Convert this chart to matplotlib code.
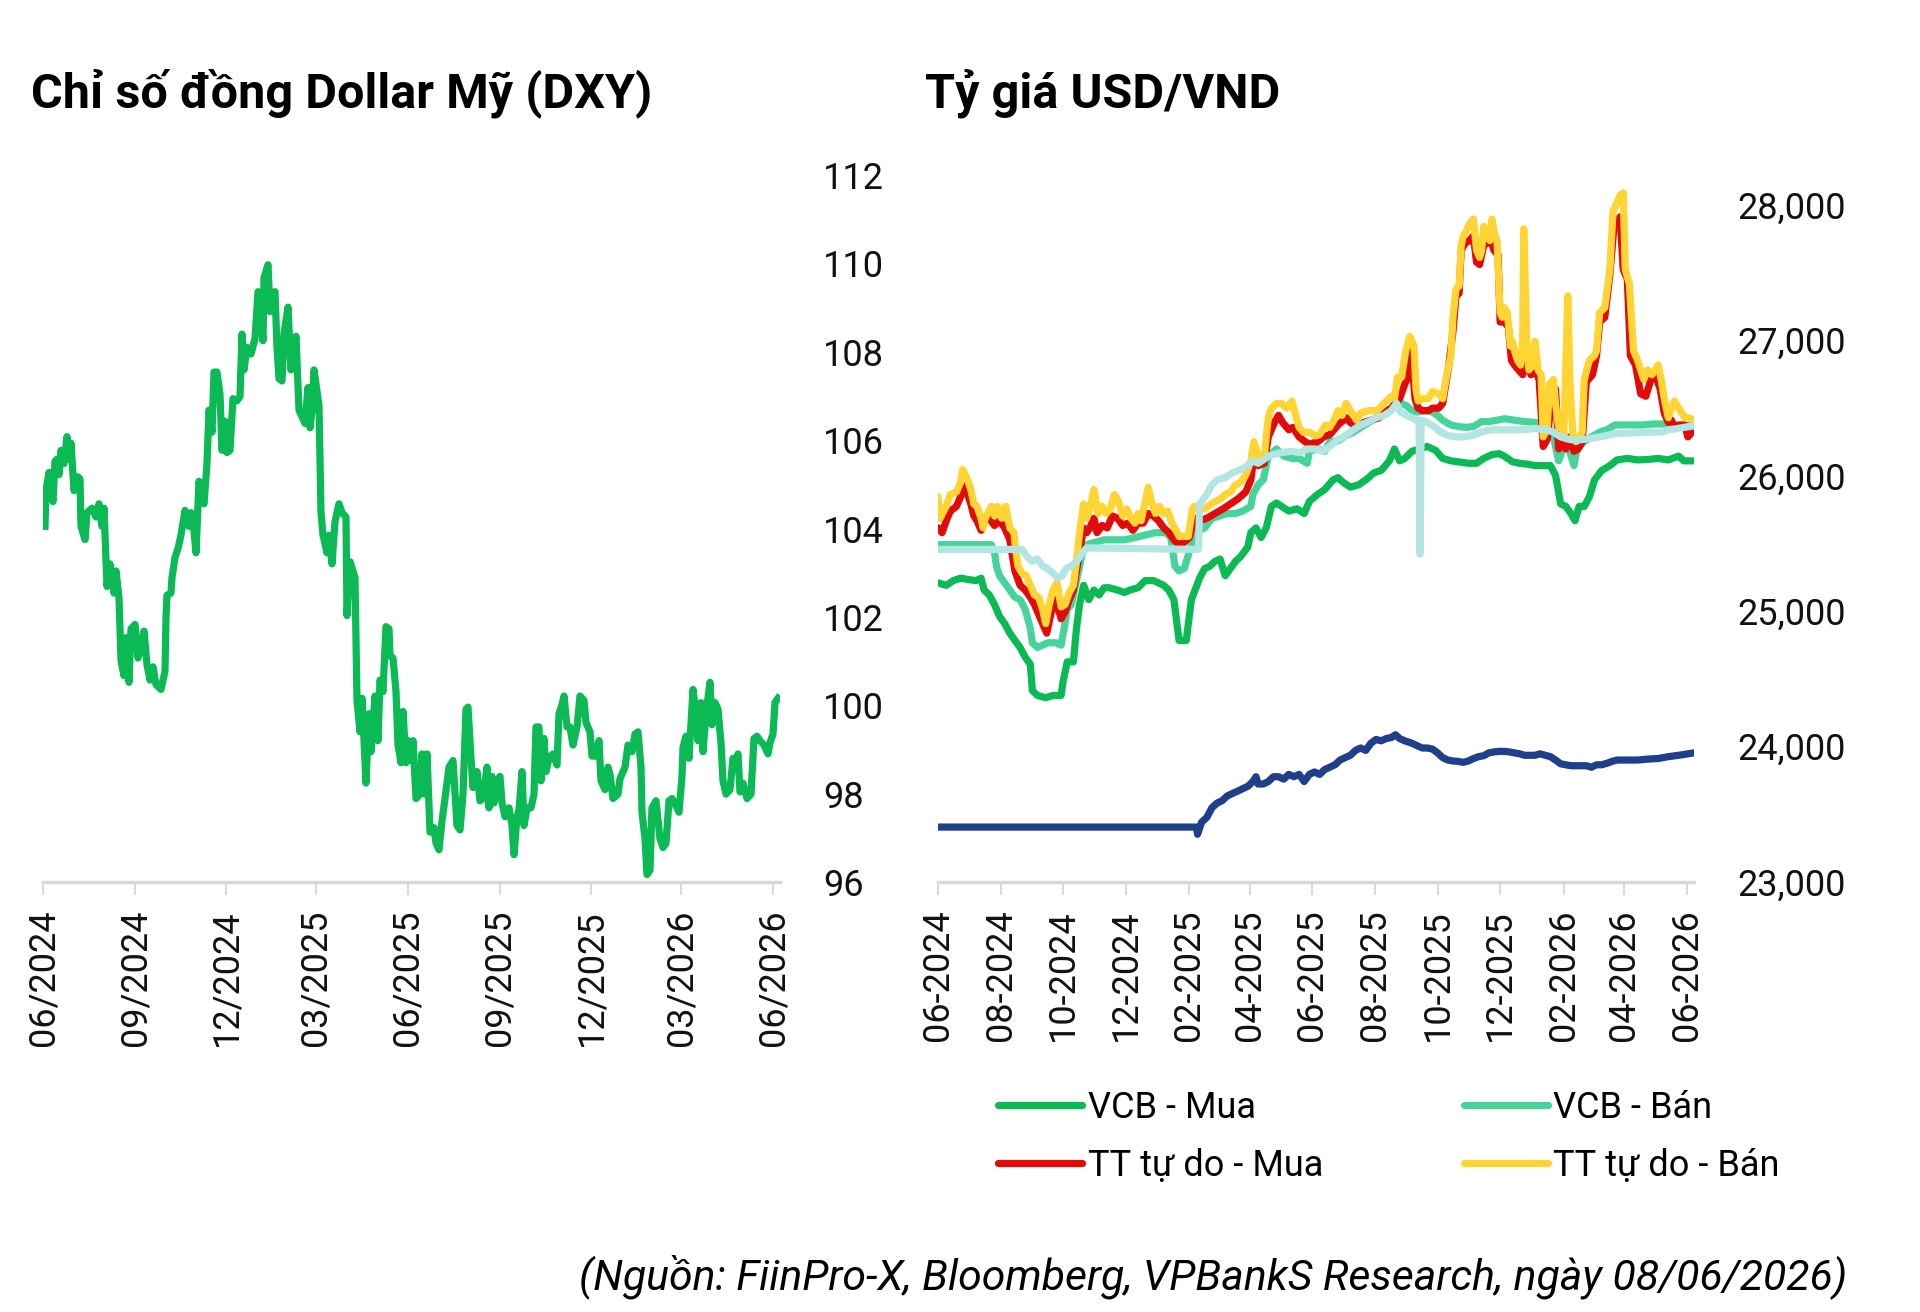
import pandas as pd
import matplotlib
matplotlib.use('Agg')
import matplotlib.pyplot as plt
import matplotlib.dates as mdates
from matplotlib.ticker import FuncFormatter

plt.rcParams['font.family'] = ['Roboto', 'DejaVu Sans']

# days counted from 01/06/2024
start = pd.Timestamp('2024-06-01')

# --- DXY ---
dxy_day = [2, 3, 6, 10, 12, 14, 16, 18, 21, 24, 26, 28, 31, 35, 37, 38, 42, 44, 49, 53,
           56, 59, 61, 64, 67, 71, 73, 76, 78, 81, 83, 86, 88, 92, 95, 98, 101, 104, 107, 110,
           113, 118, 122, 123, 124, 128, 129, 132, 135, 138, 142, 146, 148, 151, 153, 156, 161, 164, 166, 169,
           171, 174, 177, 179, 182, 184, 187, 190, 194, 197, 199, 201, 204, 208, 212, 215, 217, 220, 221, 225,
           227, 230, 232, 234, 236, 239, 241, 245, 248, 250, 253, 256, 258, 262, 265, 267, 269, 271, 276, 278,
           280, 284, 286, 289, 292, 296, 299, 303, 304, 307, 312, 314, 317, 319, 323, 326, 328, 332, 335, 337,
           340, 343, 346, 347, 350, 353, 355, 358, 360, 363, 365, 368, 370, 373, 377, 379, 382, 384, 387, 391,
           393, 396, 399, 402, 406, 410, 414, 417, 420, 423, 425, 428, 430, 434, 437, 440, 444, 446, 449, 451,
           454, 457, 459, 462, 466, 469, 471, 474, 476, 479, 481, 484, 488, 491, 493, 496, 498, 501, 503, 506,
           510, 514, 516, 519, 521, 524, 527, 530, 534, 537, 541, 543, 547, 549, 552, 556, 558, 562, 565, 567,
           570, 575, 577, 582, 585, 589, 592, 595, 598, 599, 602, 604, 607, 609, 613, 617, 620, 623, 626, 629,
           634, 636, 639, 640, 643, 646, 650, 653, 655, 658, 660, 663, 667, 669, 672, 675, 678, 680, 683, 687,
           690, 692, 695, 697, 700, 704, 708, 711, 714, 717, 721, 725, 727, 730, 732, 735]
dxy = [104.05, 104.86, 105.27, 104.61, 105.52, 105.57, 105.22, 105.77, 105.47, 106.08,
       105.57, 105.93, 104.86, 105.17, 105.12, 104.05, 103.75, 104.36, 104.46, 104.26,
       104.56, 104.05, 104.46, 102.69, 103.20, 102.54, 103.04, 102.44, 101.02, 100.67,
       101.53, 100.52, 101.73, 101.83, 101.07, 101.32, 101.68, 100.92, 100.57, 100.87,
       100.47, 100.36, 100.77, 101.98, 102.49, 102.54, 102.89, 103.35, 103.55, 103.85,
       104.41, 104.05, 104.36, 103.95, 103.45, 105.07, 104.56, 105.47, 106.68, 106.18,
       107.54, 107.54, 107.04, 105.77, 106.43, 105.72, 105.77, 106.94, 106.89, 106.99,
       108.40, 107.59, 108.10, 107.95, 108.30, 109.36, 108.91, 108.25, 109.67, 109.97,
       108.91, 109.31, 109.36, 108.10, 107.39, 107.34, 108.40, 109.01, 107.59, 107.90,
       108.35, 106.68, 106.58, 106.38, 107.19, 106.28, 106.68, 107.59, 106.78, 104.36,
       103.85, 103.45, 103.85, 103.20, 104.16, 104.56, 104.36, 104.26, 102.03, 103.25,
       102.89, 100.11, 99.40, 100.16, 98.24, 99.81, 98.95, 100.21, 99.20, 100.57,
       100.31, 101.78, 101.73, 101.12, 101.07, 100.31, 99.10, 98.70, 99.86, 98.70,
       99.20, 98.75, 99.20, 97.89, 97.99, 98.90, 97.99, 98.90, 97.13, 97.23,
       96.88, 96.73, 97.38, 97.89, 98.60, 98.75, 97.28, 97.18, 97.99, 99.91,
       99.96, 98.80, 98.14, 98.50, 97.84, 97.89, 98.60, 97.68, 98.39, 97.79,
       98.29, 98.39, 97.79, 97.48, 97.68, 97.28, 96.62, 97.48, 97.63, 98.50,
       97.28, 97.68, 97.68, 97.99, 99.51, 99.51, 98.29, 99.25, 98.50, 98.80,
       98.90, 98.65, 99.81, 100.01, 100.21, 99.51, 99.51, 99.10, 99.51, 100.21,
       100.11, 99.61, 99.40, 98.85, 98.85, 99.20, 98.29, 98.09, 98.60, 98.44,
       97.89, 97.99, 98.34, 98.60, 99.10, 98.95, 99.35, 99.40, 98.60, 97.58,
       96.98, 96.17, 96.27, 97.68, 97.84, 96.98, 96.78, 96.88, 97.84, 97.89,
       97.68, 97.58, 98.39, 99.05, 99.30, 98.80, 100.36, 99.81, 99.20, 100.06,
       98.95, 99.81, 100.52, 99.56, 100.06, 99.91, 99.15, 98.29, 97.99, 98.09,
       98.80, 98.70, 98.90, 98.04, 98.24, 97.89, 97.99, 99.25, 99.30, 99.20,
       99.10, 98.90, 99.15, 99.35, 100.06, 100.16]

# --- USD/VND ---
vcb_buy_day = [0, 8, 15, 22, 30, 37, 42, 45, 50, 55, 60, 65, 70, 75, 80, 85, 90, 92, 97, 105,
               112, 120, 122, 126, 132, 135, 138, 142, 147, 152, 157, 162, 167, 175, 182, 187, 195, 202, 210, 215,
               220, 225, 230, 235, 242, 247, 255, 260, 265, 270, 275, 280, 285, 290, 295, 302, 305, 310, 315, 320,
               325, 330, 335, 342, 350, 357, 362, 370, 377, 385, 390, 395, 402, 410, 417, 425, 432, 440, 445, 450,
               455, 462, 470, 477, 485, 492, 500, 507, 517, 525, 532, 540, 547, 552, 560, 567, 575, 582, 592, 597,
               602, 607, 612, 617, 621, 625, 630, 635, 640, 647, 655, 662, 672, 682, 692, 702, 712, 722, 727, 737]
vcb_buy = [25206, 25188, 25223, 25241, 25230, 25223, 25241, 25153, 25117, 25047,
           24958, 24905, 24835, 24781, 24729, 24658, 24605, 24411, 24375, 24358,
           24375, 24375, 24481, 24623, 24623, 24870, 25047, 25188, 25082, 25153,
           25117, 25170, 25170, 25153, 25135, 25153, 25170, 25223, 25223, 25206,
           25188, 25153, 25082, 24781, 24781, 25082, 25241, 25312, 25329, 25365,
           25382, 25259, 25312, 25365, 25400, 25471, 25577, 25612, 25541, 25612,
           25771, 25796, 25771, 25736, 25753, 25718, 25807, 25859, 25895, 25966,
           25983, 25948, 25913, 25930, 25966, 26019, 26036, 26107, 26195, 26107,
           26125, 26178, 26195, 26213, 26185, 26125, 26107, 26100, 26089, 26089,
           26125, 26153, 26160, 26142, 26100, 26089, 26082, 26072, 26072, 26072,
           26001, 25789, 25771, 25718, 25665, 25771, 25771, 25842, 25966, 26036,
           26072, 26114, 26125, 26114, 26117, 26125, 26114, 26142, 26107, 26107]

vcb_sell_day = [0, 52, 55, 57, 60, 65, 70, 75, 80, 85, 90, 92, 97, 107, 115, 120, 123, 126, 130, 135,
                138, 141, 145, 162, 182, 192, 202, 212, 222, 227, 231, 235, 240, 245, 250, 255, 260, 267, 275, 282,
                290, 297, 305, 307, 312, 317, 322, 330, 337, 345, 352, 360, 362, 370, 377, 382, 390, 397, 405, 412,
                420, 427, 435, 442, 447, 452, 457, 462, 467, 475, 482, 487, 492, 500, 507, 515, 522, 530, 537, 545,
                552, 562, 572, 582, 590, 595, 600, 605, 610, 615, 620, 623, 630, 637, 645, 652, 660, 667, 677, 687,
                697, 707, 717, 727, 737]
vcb_sell = [25488, 25488, 25435, 25329, 25259, 25206, 25153, 25100, 25082, 25011,
            24870, 24764, 24729, 24764, 24764, 24746, 24870, 25011, 25047, 25223,
            25329, 25435, 25488, 25524, 25524, 25541, 25559, 25577, 25577, 25541,
            25329, 25294, 25312, 25435, 25577, 25594, 25612, 25683, 25700, 25718,
            25718, 25736, 25771, 25859, 25930, 25966, 26142, 26195, 26142, 26125,
            26125, 26089, 26178, 26195, 26178, 26248, 26255, 26291, 26319, 26354,
            26390, 26425, 26460, 26496, 26549, 26531, 26513, 26478, 26467, 26478,
            26467, 26443, 26407, 26372, 26361, 26354, 26361, 26397, 26397, 26407,
            26418, 26407, 26397, 26390, 26390, 26354, 26284, 26107, 26213, 26195,
            26072, 26195, 26248, 26284, 26319, 26337, 26372, 26372, 26372, 26372,
            26379, 26379, 26372, 26365, 26372]

free_buy_day = [0, 4, 8, 12, 18, 22, 24, 28, 32, 35, 38, 42, 45, 50, 55, 60, 65, 70, 75, 80,
                85, 90, 94, 98, 102, 106, 110, 115, 120, 124, 128, 132, 138, 142, 145, 148, 152, 155, 160, 165,
                170, 175, 180, 185, 190, 195, 200, 205, 210, 215, 220, 225, 230, 235, 240, 245, 250, 255, 262, 270,
                278, 285, 292, 300, 305, 308, 312, 318, 322, 328, 332, 336, 342, 346, 352, 358, 362, 370, 376, 382,
                390, 398, 402, 408, 415, 422, 430, 438, 442, 446, 450, 455, 458, 460, 462, 465, 468, 472, 478, 482,
                488, 492, 495, 498, 502, 505, 508, 510, 514, 518, 522, 525, 528, 532, 535, 540, 542, 546, 548, 552,
                556, 559, 562, 566, 570, 574, 578, 582, 586, 590, 594, 598, 602, 605, 609, 612, 616, 620, 624, 628,
                632, 638, 642, 645, 650, 655, 659, 662, 665, 668, 672, 675, 680, 685, 690, 695, 700, 704, 708, 712,
                715, 718, 722, 728, 731, 735, 737]
free_buy = [25612, 25577, 25665, 25736, 25771, 25842, 25948, 25877, 25789, 25700,
            25665, 25594, 25665, 25683, 25630, 25665, 25612, 25524, 25294, 25188,
            25153, 25100, 25047, 24976, 24905, 24835, 24976, 25082, 24941, 24994,
            25082, 25153, 25435, 25612, 25577, 25612, 25683, 25577, 25630, 25612,
            25700, 25683, 25630, 25647, 25594, 25647, 25647, 25718, 25700, 25665,
            25612, 25577, 25524, 25488, 25506, 25541, 25683, 25665, 25683, 25718,
            25753, 25789, 25824, 25877, 25966, 26142, 26072, 26089, 26284, 26390,
            26443, 26390, 26337, 26354, 26284, 26248, 26231, 26248, 26284, 26301,
            26372, 26425, 26390, 26354, 26390, 26407, 26425, 26478, 26496, 26531,
            26566, 26672, 26725, 26920, 26849, 26566, 26496, 26478, 26478, 26496,
            26496, 26531, 26672, 26814, 27061, 27326, 27344, 27662, 27715, 27733,
            27768, 27574, 27556, 27697, 27715, 27715, 27662, 27627, 27132, 27132,
            27096, 26849, 26814, 26778, 26743, 26884, 26743, 26778, 26708, 26213,
            26266, 26566, 26637, 26195, 26231, 26195, 26284, 26177, 26195, 26248,
            26690, 26743, 26884, 27132, 27167, 27485, 27839, 27856, 27909, 27520,
            27450, 26884, 26814, 26602, 26584, 26708, 26725, 26637, 26460, 26390,
            26407, 26354, 26372, 26372, 26284, 26319, 26372]

free_sell_day = [0, 2, 8, 12, 18, 22, 24, 28, 32, 35, 38, 42, 44, 46, 52, 55, 58, 62, 66, 70,
                 74, 76, 78, 82, 86, 90, 94, 98, 102, 105, 108, 112, 116, 120, 124, 128, 132, 135, 138, 142,
                 145, 148, 152, 156, 160, 164, 168, 172, 176, 180, 184, 188, 192, 195, 198, 202, 205, 208, 212, 216,
                 220, 224, 228, 232, 235, 240, 244, 248, 250, 255, 260, 265, 270, 275, 280, 285, 290, 295, 300, 305,
                 308, 312, 318, 322, 325, 330, 335, 340, 345, 348, 352, 356, 362, 368, 372, 378, 382, 386, 390, 394,
                 398, 402, 408, 412, 420, 428, 435, 442, 445, 448, 452, 456, 460, 464, 466, 468, 472, 478, 482, 488,
                 492, 496, 500, 502, 505, 508, 510, 512, 515, 518, 522, 525, 528, 530, 532, 535, 538, 540, 542, 545,
                 548, 550, 552, 555, 558, 560, 562, 565, 568, 570, 571, 574, 576, 580, 582, 585, 588, 590, 594, 596,
                 600, 602, 605, 608, 610, 614, 616, 619, 622, 628, 630, 635, 640, 642, 645, 650, 655, 658, 662, 665,
                 668, 670, 674, 678, 682, 688, 692, 696, 702, 705, 708, 712, 715, 718, 722, 728, 732, 737]
free_sell = [25842, 25683, 25771, 25859, 25877, 25948, 26043, 25983, 25895, 25789,
             25771, 25683, 25612, 25683, 25771, 25700, 25771, 25683, 25771, 25612,
             25577, 25435, 25329, 25276, 25259, 25188, 25117, 25100, 25011, 24905,
             25029, 25153, 25206, 25029, 25047, 25135, 25188, 25365, 25577, 25789,
             25683, 25753, 25895, 25718, 25771, 25718, 25753, 25859, 25807, 25700,
             25753, 25683, 25647, 25718, 25665, 25807, 25912, 25807, 25718, 25771,
             25718, 25736, 25647, 25594, 25549, 25549, 25549, 25753, 25771, 25753,
             25753, 25782, 25807, 25824, 25859, 25877, 25930, 25948, 26001, 26107,
             26248, 26142, 26142, 26425, 26496, 26531, 26531, 26496, 26549, 26460,
             26354, 26319, 26319, 26291, 26301, 26372, 26354, 26407, 26478, 26443,
             26531, 26478, 26407, 26460, 26478, 26478, 26531, 26584, 26566, 26725,
             26725, 26920, 27026, 26955, 26637, 26549, 26566, 26566, 26619, 26602,
             26566, 26743, 26884, 27167, 27379, 27397, 27697, 27768, 27803, 27856,
             27892, 27662, 27609, 27662, 27839, 27768, 27733, 27892, 27803, 27733,
             27202, 27167, 27238, 27202, 26955, 26990, 26920, 26849, 26814, 26990,
             27821, 26990, 26778, 26814, 26990, 26778, 26743, 26284, 26354, 26672,
             26708, 26531, 26354, 26390, 26284, 27326, 26708, 26284, 26248, 26319,
             26708, 26849, 26884, 26920, 27202, 27238, 27520, 27945, 28015, 28068,
             28086, 27520, 27414, 26920, 26849, 26708, 26778, 26743, 26814, 26708,
             26566, 26425, 26496, 26549, 26496, 26425, 26425, 26407]

sbv_sell_day = [0, 82, 87, 92, 97, 102, 107, 112, 117, 121, 125, 130, 135, 140, 145, 254, 255, 262, 267, 272,
                280, 287, 295, 302, 307, 312, 317, 322, 330, 337, 345, 352, 360, 367, 375, 382, 390, 397, 405, 412,
                420, 427, 435, 442, 447, 451, 457, 462, 467, 469, 470, 471, 472, 477, 485, 490, 497, 505, 512, 520,
                527, 535, 542, 552, 562, 572, 582, 592, 600, 607, 615, 622, 630, 637, 645, 652, 660, 667, 675, 682,
                690, 697, 705, 712, 720, 727, 737]
sbv_sell = [25453, 25453, 25400, 25365, 25382, 25329, 25312, 25276, 25241, 25259,
            25312, 25329, 25365, 25418, 25464, 25453, 25789, 25859, 25930, 25966,
            25983, 26019, 26043, 26072, 26107, 26089, 26114, 26142, 26160, 26170,
            26178, 26167, 26195, 26195, 26178, 26213, 26266, 26291, 26337, 26372,
            26397, 26425, 26443, 26478, 26531, 26467, 26443, 26425, 26407, 26407,
            25418, 26407, 26407, 26390, 26354, 26319, 26294, 26284, 26284, 26294,
            26312, 26330, 26337, 26337, 26337, 26337, 26347, 26337, 26319, 26284,
            26266, 26259, 26266, 26273, 26284, 26294, 26308, 26312, 26312, 26315,
            26319, 26319, 26319, 26337, 26344, 26354, 26365]

sbv_buy_day = [0, 252, 253, 257, 262, 267, 272, 277, 282, 287, 292, 297, 302, 307, 310, 312, 317, 322, 327, 332,
               337, 342, 347, 352, 357, 362, 367, 372, 377, 382, 387, 392, 397, 402, 407, 412, 417, 422, 427, 432,
               437, 442, 446, 450, 455, 462, 467, 472, 477, 482, 487, 492, 497, 502, 507, 512, 517, 522, 527, 532,
               537, 542, 547, 552, 557, 562, 567, 572, 577, 582, 587, 592, 597, 602, 607, 612, 617, 622, 627, 632,
               637, 642, 647, 652, 657, 662, 672, 682, 692, 702, 712, 722, 737]
sbv_buy = [23403, 23403, 23350, 23439, 23474, 23545, 23580, 23598, 23633, 23651,
           23668, 23686, 23704, 23739, 23775, 23721, 23721, 23739, 23775, 23775,
           23757, 23792, 23775, 23792, 23739, 23792, 23810, 23792, 23828, 23845,
           23863, 23898, 23916, 23933, 23969, 23987, 23969, 24022, 24050, 24040,
           24057, 24064, 24085, 24057, 24040, 24022, 24004, 23987, 23987, 23979,
           23951, 23916, 23898, 23891, 23888, 23881, 23891, 23909, 23923, 23930,
           23951, 23958, 23962, 23962, 23958, 23951, 23944, 23933, 23933, 23933,
           23944, 23933, 23923, 23898, 23870, 23863, 23856, 23856, 23856, 23856,
           23845, 23863, 23863, 23874, 23888, 23898, 23898, 23898, 23905, 23909,
           23923, 23933, 23951]


def to_dates(days):
    return start + pd.to_timedelta(days, unit='D')


fig = plt.figure(figsize=(19.2, 13.12), dpi=100)
ax1 = fig.add_axes([43 / 1920, 0.3277, 737 / 1920, 0.5389])
ax2 = fig.add_axes([938 / 1920, 0.328, 756 / 1920, 0.5368])

lw = 5.2
green = '#0bba55'

ax1.plot(to_dates(dxy_day), dxy, color=green, lw=lw, solid_joinstyle='round')
ax1.set_ylim(96, 112)
ax1.set_yticks(range(96, 113, 2))
ax1.xaxis.set_major_locator(mdates.MonthLocator(bymonth=[3, 6, 9, 12]))
ax1.xaxis.set_major_formatter(mdates.DateFormatter('%m/%Y'))
ax1.set_xlim(start, pd.Timestamp('2026-06-08'))

l_vb, = ax2.plot(to_dates(vcb_buy_day), vcb_buy, color=green, lw=lw, solid_capstyle='round',
                 label='VCB - Mua')
l_vs, = ax2.plot(to_dates(vcb_sell_day), vcb_sell, color='#47d49b', lw=lw, solid_capstyle='round',
                 label='VCB - Bán')
l_fb, = ax2.plot(to_dates(free_buy_day), free_buy, color='#e30a0a', lw=lw, solid_capstyle='round',
                 label='TT tự do - Mua')
l_fs, = ax2.plot(to_dates(free_sell_day), free_sell, color='#ffd433', lw=lw, solid_capstyle='round',
                 label='TT tự do - Bán')
ax2.plot(to_dates(sbv_sell_day), sbv_sell, color='#b3e5e2', lw=lw)
ax2.plot(to_dates(sbv_buy_day), sbv_buy, color='#1f3f8a', lw=lw)
ax2.set_ylim(23000, 28200)
ax2.set_yticks(range(23000, 28001, 1000))
ax2.yaxis.set_major_formatter(FuncFormatter(lambda v, p: f'{v:,.0f}'))
ax2.xaxis.set_major_locator(mdates.MonthLocator(bymonth=[2, 4, 6, 8, 10, 12]))
ax2.xaxis.set_major_formatter(mdates.DateFormatter('%m-%Y'))
ax2.set_xlim(start, pd.Timestamp('2026-06-08'))

for ax in (ax1, ax2):
    for s in ('top', 'left', 'right'):
        ax.spines[s].set_visible(False)
    ax.spines['bottom'].set_color('#d9d9d9')
    ax.spines['bottom'].set_linewidth(2.5)
    ax.yaxis.tick_right()
    ax.tick_params(axis='y', length=0, pad=31, labelsize=26, labelcolor='#111111')
    ax.tick_params(axis='x', length=9, width=1.5, color='#d9d9d9', pad=11,
                   labelsize=26, labelrotation=90, labelcolor='#111111')

fig.text(31 / 1920, 0.929, 'Chỉ số đồng Dollar Mỹ (DXY)', fontsize=35, fontweight='bold',
         va='center', ha='left')
fig.text(925 / 1920, 0.929, 'Tỷ giá USD/VND', fontsize=35, fontweight='bold',
         va='center', ha='left')

fig.legend(handles=[l_vb, l_fb, l_vs, l_fs], ncol=2, loc='upper left',
           bbox_to_anchor=(998 / 1920, 0.1692), frameon=False, fontsize=26,
           handlelength=2.33, handletextpad=0.15, columnspacing=3.9, labelspacing=0.6,
           borderpad=0, borderaxespad=0)

fig.text(1847 / 1920, 0.0267, '(Nguồn: FiinPro-X, Bloomberg, VPBankS Research, ngày 08/06/2026)',
         fontsize=30.8, style='italic', ha='right', va='center')

fig.savefig('out.png', dpi=100)
